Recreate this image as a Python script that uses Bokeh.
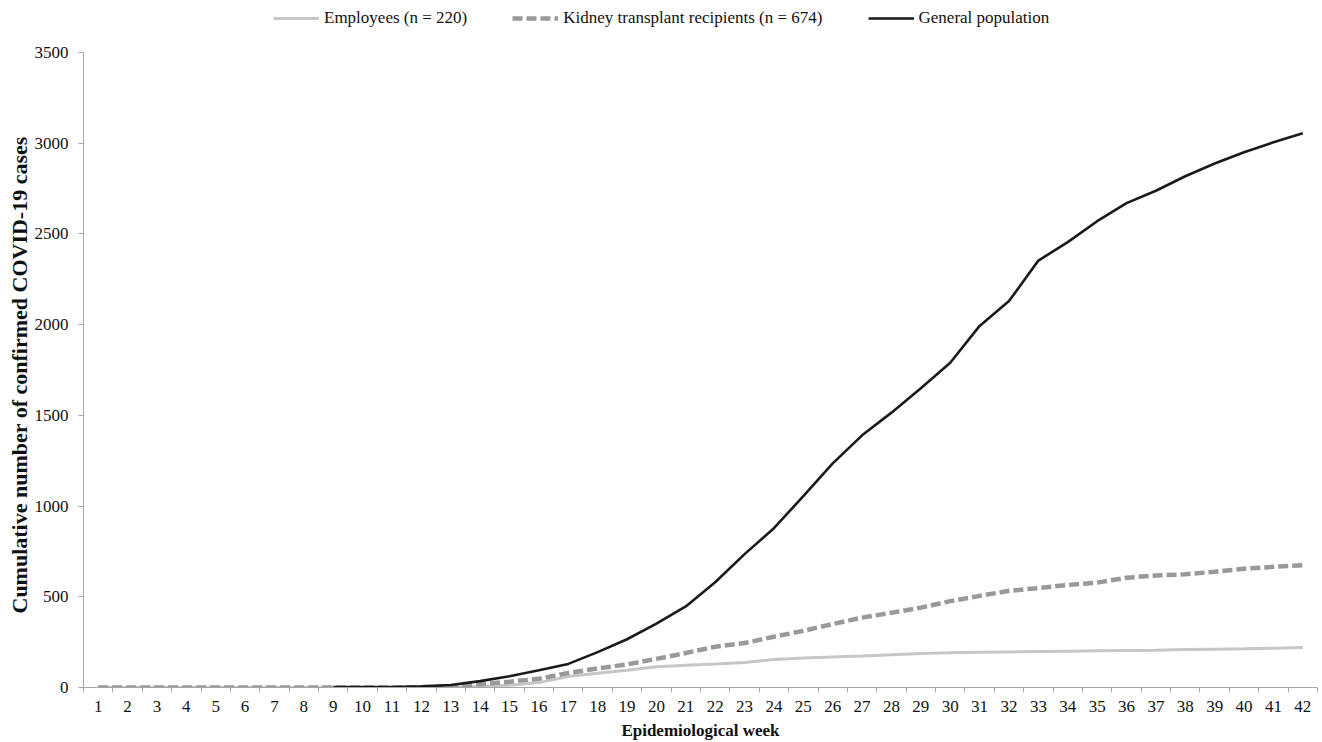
from bokeh.plotting import figure
from bokeh.models import (ColumnDataSource, FixedTicker, Legend, LegendItem,
                          Range1d, Title)
from bokeh.embed import file_html
from bokeh.resources import INLINE

# Epidemiological weeks and cumulative confirmed COVID-19 cases
weeks = list(range(1, 43))
week_labels = [str(w) for w in weeks]

employees = [0, 0, 0, 0, 0, 0, 0, 0, 0, 0, 0, 0,
             2, 5, 12, 27, 60, 78, 95, 114, 123, 130, 138, 155, 162, 168,
             173, 180, 188, 191, 194, 196, 198, 200, 202, 204, 206, 209,
             211, 213, 217, 220]

kidney_recipients = [0, 0, 0, 0, 0, 0, 0, 0, 0, 0, 0, 1,
                     5, 18, 32, 48, 80, 105, 127, 158, 190, 225, 245, 280,
                     312, 350, 385, 412, 440, 476, 505, 533, 548, 565, 578,
                     605, 617, 624, 638, 655, 665, 674]

# general population is reported from week 9 onward
general_weeks = list(range(9, 43))
general_population = [2, 2, 3, 6, 14, 35, 62, 95, 130, 195, 266, 352, 447,
                      580, 735, 878, 1055, 1235, 1390, 1515, 1650, 1790,
                      1993, 2130, 2353, 2455, 2570, 2670, 2738, 2818, 2888,
                      2950, 3005, 3055]

y_ticks = [0, 500, 1000, 1500, 2000, 2500, 3000, 3500]

legend_labels = ["Employees (n = 220)",
                 "Kidney transplant recipients (n = 674)",
                 "General population"]
y_title = "Cumulative number of confirmed COVID-19 cases"
x_title = "Epidemiological week"

FONT = "Liberation Serif"
AXIS_GREY = "#a6a6a6"
TEXT = "#111111"

PLOT_H = 742
FRAME_BOTTOM = 55          # px below the plotting area
Y_TOP_PX = 52              # screen row of the 3500 tick
frame_h = PLOT_H - FRAME_BOTTOM
y_max = y_ticks[-1]
# headroom above the last tick leaves space for the legend row
y_end = y_max * frame_h / (frame_h - Y_TOP_PX)

p = figure(width=1322, height=PLOT_H, output_backend="svg",
           toolbar_location=None,
           x_range=Range1d(0.5, 42.5), y_range=Range1d(0, y_end),
           min_border_left=83, min_border_right=5,
           min_border_top=0, min_border_bottom=FRAME_BOTTOM)
p.outline_line_color = None
p.xgrid.visible = False
p.ygrid.visible = False
p.background_fill_color = "white"
p.border_fill_color = "white"

src_emp = ColumnDataSource(dict(x=weeks, y=employees))
src_kid = ColumnDataSource(dict(x=weeks, y=kidney_recipients))
src_gen = ColumnDataSource(dict(x=general_weeks, y=general_population))

r_emp = p.line("x", "y", source=src_emp, line_color="#c6c6c6",
               line_width=3)
r_kid = p.line("x", "y", source=src_kid, line_color="#999999",
               line_width=4.5, line_dash="10 4")
r_gen = p.line("x", "y", source=src_gen, line_color="#1a1a1a",
               line_width=2.6)

# x axis: labels centred on each week, tick marks between weeks
xax = p.xaxis[0]
xax.ticker = FixedTicker(ticks=weeks,
                         minor_ticks=[w + 0.5 for w in range(0, 43)])
xax.major_label_overrides = {w: lab for w, lab in zip(weeks, week_labels)}
xax.major_tick_out = 0
xax.major_tick_in = 0
xax.minor_tick_out = 5
xax.minor_tick_in = 0
xax.minor_tick_line_color = AXIS_GREY
xax.axis_line_color = AXIS_GREY
xax.major_label_text_font = FONT
xax.major_label_text_font_size = "17px"
xax.major_label_text_color = TEXT
xax.major_label_standoff = 8
xax.axis_label = x_title
xax.axis_label_text_font = FONT
xax.axis_label_text_font_size = "17px"
xax.axis_label_text_font_style = "bold"
xax.axis_label_text_color = TEXT
xax.axis_label_standoff = 6

yax = p.yaxis[0]
yax.ticker = FixedTicker(ticks=y_ticks)
yax.bounds = (0, y_max)
yax.major_tick_out = 5
yax.major_tick_in = 0
yax.minor_tick_out = 0
yax.minor_tick_in = 0
yax.major_tick_line_color = AXIS_GREY
yax.axis_line_color = AXIS_GREY
yax.major_label_text_font = FONT
yax.major_label_text_font_size = "17px"
yax.major_label_text_color = TEXT
yax.major_label_standoff = 10

# y title starts a little above the x axis and runs upward
p.add_layout(Title(text=y_title, align="left", offset=74,
                   text_font=FONT, text_font_size="22px",
                   text_font_style="bold", text_color=TEXT,
                   standoff=0), "left")

legend = Legend(
    items=[LegendItem(label=legend_labels[0], renderers=[r_emp]),
           LegendItem(label=legend_labels[1], renderers=[r_kid]),
           LegendItem(label=legend_labels[2], renderers=[r_gen])],
    orientation="horizontal", location=(190, frame_h - 28),
    glyph_width=46, glyph_height=20, label_height=20,
    label_standoff=5, spacing=45, padding=0, margin=0,
    label_text_font=FONT, label_text_font_size="17px",
    label_text_color=TEXT,
    border_line_color=None, background_fill_alpha=0)
p.add_layout(legend, "center")

open("out.html", "w").write(file_html(p, INLINE))
